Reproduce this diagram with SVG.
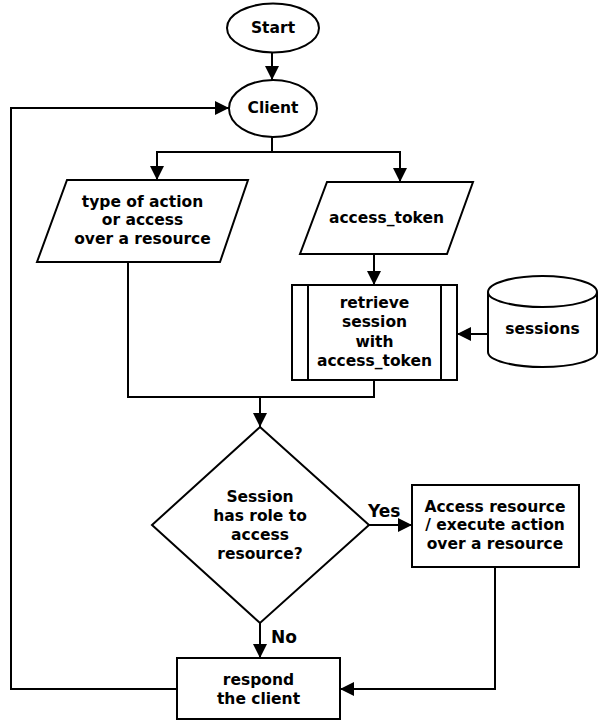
<svg xmlns="http://www.w3.org/2000/svg" width="604" height="724" viewBox="0 0 604 724">
<style>
.s{fill:#fff;stroke:#000;stroke-width:2}
.c{fill:none;stroke:#000;stroke-width:2}
.t{font-family:"DejaVu Sans","Liberation Sans",sans-serif;font-weight:bold;font-size:15.5px;fill:#000;text-anchor:middle}
.l{font-family:"DejaVu Sans","Liberation Sans",sans-serif;font-weight:bold;font-size:17px;fill:#000}
</style>
<defs>
<marker id="ah" markerWidth="14" markerHeight="14" refX="14" refY="7" orient="auto" markerUnits="userSpaceOnUse">
<path d="M0,0 L14,7 L0,14 z" fill="#000"/>
</marker>
</defs>
<rect width="604" height="724" fill="#fff"/>
<g id="connectors">
<path class="c" d="M272,52 V80" marker-end="url(#ah)"/>
<path class="c" d="M272,137 V152 H157 V180" marker-end="url(#ah)"/>
<path class="c" d="M272,152 H400 V182" marker-end="url(#ah)"/>
<path class="c" d="M374,254 V285" marker-end="url(#ah)"/>
<path class="c" d="M488,334 H457" marker-end="url(#ah)"/>
<path class="c" d="M128,262 V397 H260 V427" marker-end="url(#ah)"/>
<path class="c" d="M374,380 V397 H260"/>
<path class="c" d="M369,525 H412" marker-end="url(#ah)"/>
<text class="l" x="368" y="517">Yes</text>
<path class="c" d="M260,623 V658" marker-end="url(#ah)"/>
<text class="l" x="271" y="643">No</text>
<path class="c" d="M495,567 V689 H340" marker-end="url(#ah)"/>
<path class="c" d="M177,689 H11 V108 H229" marker-end="url(#ah)"/>
</g>
<g id="start">
<ellipse class="s" cx="273" cy="28" rx="46" ry="24.5"/>
<text class="t" x="273" y="33">Start</text>
</g>
<g id="client">
<ellipse class="s" cx="273" cy="108.5" rx="44" ry="28.5"/>
<text class="t" x="273" y="113">Client</text>
</g>
<g id="action">
<polygon class="s" points="67,180 248,180 220,262 37,262"/>
<text class="t" x="142.5" y="206.5">type of action</text>
<text class="t" x="142.5" y="225.3">or access</text>
<text class="t" x="142.5" y="244">over a resource</text>
</g>
<g id="access_token">
<polygon class="s" points="327,182 473,182 447,254 300,254"/>
<text class="t" x="386.5" y="222.5">access_token</text>
</g>
<g id="retrieve">
<rect class="s" x="292" y="285" width="165" height="95"/>
<path class="c" d="M308,285 V380 M441,285 V380"/>
<text class="t" x="374.5" y="308">retrieve</text>
<text class="t" x="374.5" y="327">session</text>
<text class="t" x="374.5" y="346.5">with</text>
<text class="t" x="374.5" y="366">access_token</text>
</g>
<g id="sessions">
<path class="s" d="M488,292 A54.5,16 0 0 1 597,292 V352 A54.5,15 0 0 1 488,352 Z"/>
<path class="c" d="M488,292 A54.5,15 0 0 0 597,292"/>
<text class="t" x="542.5" y="334">sessions</text>
</g>
<g id="decision">
<polygon class="s" points="260,427 369,525 260,623 152,525"/>
<text class="t" x="260" y="502">Session</text>
<text class="t" x="260" y="521">has role to</text>
<text class="t" x="260" y="539.5">access</text>
<text class="t" x="260" y="558.5">resource?</text>
</g>
<g id="access_resource">
<rect class="s" x="412" y="485" width="167" height="82"/>
<text class="t" x="495" y="511.5">Access resource</text>
<text class="t" x="495" y="530.3">/ execute action</text>
<text class="t" x="495" y="549">over a resource</text>
</g>
<g id="respond">
<rect class="s" x="177" y="658" width="163" height="61"/>
<text class="t" x="258.5" y="685">respond</text>
<text class="t" x="258.5" y="703.5">the client</text>
</g>
</svg>
